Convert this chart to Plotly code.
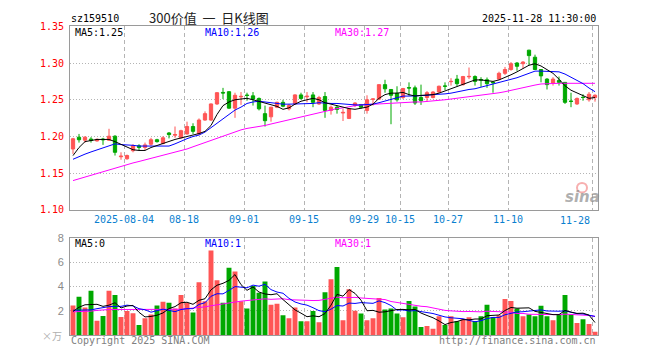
import plotly.graph_objects as go

# ---------------- data ----------------
dates = [
    "2025-07-22", "2025-07-23", "2025-07-24", "2025-07-25", "2025-07-28", "2025-07-29", "2025-07-30", "2025-07-31",
    "2025-08-01", "2025-08-04", "2025-08-05", "2025-08-06", "2025-08-07", "2025-08-08", "2025-08-11", "2025-08-12",
    "2025-08-13", "2025-08-14", "2025-08-15", "2025-08-18", "2025-08-19", "2025-08-20", "2025-08-21", "2025-08-22",
    "2025-08-25", "2025-08-26", "2025-08-27", "2025-08-28", "2025-08-29", "2025-09-01", "2025-09-02", "2025-09-03",
    "2025-09-04", "2025-09-05", "2025-09-08", "2025-09-09", "2025-09-10", "2025-09-11", "2025-09-12", "2025-09-15",
    "2025-09-16", "2025-09-17", "2025-09-18", "2025-09-19", "2025-09-22", "2025-09-23", "2025-09-24", "2025-09-25",
    "2025-09-26", "2025-09-29", "2025-09-30", "2025-10-09", "2025-10-10", "2025-10-13", "2025-10-14", "2025-10-15",
    "2025-10-16", "2025-10-17", "2025-10-20", "2025-10-21", "2025-10-22", "2025-10-23", "2025-10-24", "2025-10-27",
    "2025-10-28", "2025-10-29", "2025-10-30", "2025-10-31", "2025-11-03", "2025-11-04", "2025-11-05", "2025-11-06",
    "2025-11-07", "2025-11-10", "2025-11-11", "2025-11-12", "2025-11-13", "2025-11-14", "2025-11-17", "2025-11-18",
    "2025-11-19", "2025-11-20", "2025-11-21", "2025-11-24", "2025-11-25", "2025-11-26", "2025-11-27", "2025-11-28",
]

opens = [
    1.1830, 1.1990, 1.1950, 1.1965, 1.1940, 1.1965, 1.1950, 1.2004, 1.1724, 1.1697,
    1.1807, 1.1873, 1.1851, 1.1895, 1.1956, 1.1904, 1.2048, 1.2018, 1.1982, 1.2035,
    1.2136, 1.2035, 1.2224, 1.2224, 1.2443, 1.2600, 1.2610, 1.2386, 1.2540, 1.2565,
    1.2553, 1.2518, 1.2311, 1.2268, 1.2399, 1.2465, 1.2377, 1.2443, 1.2566, 1.2540,
    1.2566, 1.2443, 1.2544, 1.2355, 1.2399, 1.2320, 1.2246, 1.2421, 1.2434, 1.2355,
    1.2505, 1.2509, 1.2706, 1.2640, 1.2588, 1.2531, 1.2665, 1.2662, 1.2531, 1.2531,
    1.2531, 1.2605, 1.2688, 1.2746, 1.2781, 1.2706, 1.2812, 1.2816, 1.2776, 1.2772,
    1.2741, 1.2781, 1.2860, 1.2912, 1.3000, 1.2991, 1.3175, 1.3079, 1.2912, 1.2781,
    1.2728, 1.2763, 1.2737, 1.2482, 1.2443, 1.2533, 1.2500, 1.2531,
]
highs = [
    1.1982, 1.2035, 1.2004, 1.1991, 1.1974, 1.1982, 1.2105, 1.2018, 1.1785, 1.1754,
    1.1895, 1.1895, 1.1917, 1.1982, 1.1969, 1.2004, 1.2061, 1.2136, 1.2092, 1.2202,
    1.2180, 1.2246, 1.2342, 1.2450, 1.2605, 1.2662, 1.2618, 1.2596, 1.2605, 1.2596,
    1.2605, 1.2531, 1.2421, 1.2405, 1.2474, 1.2500, 1.2443, 1.2575, 1.2596, 1.2605,
    1.2605, 1.2553, 1.2605, 1.2421, 1.2421, 1.2377, 1.2386, 1.2465, 1.2443, 1.2561,
    1.2518, 1.2710, 1.2772, 1.2645, 1.2684, 1.2662, 1.2737, 1.2693, 1.2706, 1.2618,
    1.2618, 1.2693, 1.2737, 1.2794, 1.2838, 1.2825, 1.2939, 1.2833, 1.2807, 1.2803,
    1.2750, 1.2882, 1.2947, 1.3013, 1.3013, 1.3026, 1.3180, 1.3114, 1.2915, 1.2794,
    1.2807, 1.2816, 1.2740, 1.2596, 1.2531, 1.2575, 1.2605, 1.2575,
]
lows = [
    1.1763, 1.1917, 1.1917, 1.1917, 1.1930, 1.1886, 1.1939, 1.1741, 1.1684, 1.1684,
    1.1785, 1.1816, 1.1816, 1.1873, 1.1917, 1.1895, 1.1974, 1.1982, 1.1974, 1.2026,
    1.2035, 1.2018, 1.2215, 1.2211, 1.2430, 1.2509, 1.2377, 1.2254, 1.2430, 1.2487,
    1.2421, 1.2355, 1.2136, 1.2202, 1.2386, 1.2399, 1.2355, 1.2434, 1.2500, 1.2465,
    1.2399, 1.2430, 1.2254, 1.2298, 1.2311, 1.2211, 1.2237, 1.2399, 1.2377, 1.2311,
    1.2421, 1.2500, 1.2596, 1.2167, 1.2474, 1.2509, 1.2553, 1.2430, 1.2430, 1.2474,
    1.2518, 1.2596, 1.2632, 1.2693, 1.2684, 1.2693, 1.2781, 1.2693, 1.2675, 1.2662,
    1.2596, 1.2772, 1.2838, 1.2895, 1.2895, 1.2925, 1.2969, 1.2908, 1.2737, 1.2640,
    1.2693, 1.2693, 1.2443, 1.2399, 1.2430, 1.2487, 1.2474, 1.2474,
]
closes = [
    1.1969, 1.1956, 1.1991, 1.1947, 1.1961, 1.1956, 1.2004, 1.1785, 1.1732, 1.1741,
    1.1873, 1.1851, 1.1886, 1.1956, 1.1930, 1.1982, 1.2026, 1.2026, 1.2079, 1.2136,
    1.2070, 1.2224, 1.2311, 1.2443, 1.2596, 1.2592, 1.2386, 1.2561, 1.2546, 1.2558,
    1.2509, 1.2377, 1.2215, 1.2399, 1.2465, 1.2412, 1.2421, 1.2566, 1.2518, 1.2548,
    1.2465, 1.2531, 1.2355, 1.2399, 1.2368, 1.2328, 1.2377, 1.2456, 1.2399, 1.2500,
    1.2511, 1.2706, 1.2649, 1.2561, 1.2500, 1.2653, 1.2660, 1.2456, 1.2487, 1.2596,
    1.2605, 1.2684, 1.2684, 1.2750, 1.2719, 1.2816, 1.2818, 1.2750, 1.2768, 1.2719,
    1.2732, 1.2860, 1.2912, 1.2991, 1.2956, 1.3013, 1.3101, 1.2912, 1.2825, 1.2706,
    1.2781, 1.2737, 1.2465, 1.2478, 1.2518, 1.2531, 1.2575, 1.2561,
]

ma5 = [
    1.174, 1.185, 1.193, 1.195, 1.196, 1.196, 1.196, 1.193, 1.189, 1.185,
    1.182, 1.181, 1.181, 1.185, 1.188, 1.191, 1.194, 1.196, 1.198, 1.200,
    1.201, 1.204, 1.207, 1.215, 1.230, 1.242, 1.247, 1.250, 1.251, 1.252,
    1.250, 1.248, 1.246, 1.244, 1.241, 1.237, 1.239, 1.244, 1.248, 1.250,
    1.252, 1.250, 1.246, 1.244, 1.242, 1.239, 1.238, 1.237, 1.238, 1.240,
    1.244, 1.252, 1.257, 1.259, 1.259, 1.260, 1.257, 1.255, 1.256, 1.256,
    1.257, 1.259, 1.262, 1.266, 1.269, 1.272, 1.275, 1.277, 1.277, 1.276,
    1.275, 1.277, 1.280, 1.284, 1.288, 1.292, 1.297, 1.299, 1.296, 1.291,
    1.286, 1.278, 1.269, 1.263, 1.259, 1.255, 1.252, 1.253,
]
ma10 = [
    1.169, 1.173, 1.176, 1.179, 1.182, 1.184, 1.188, 1.190, 1.189, 1.189,
    1.188, 1.187, 1.187, 1.186, 1.186, 1.186, 1.187, 1.190, 1.194, 1.197,
    1.200, 1.202, 1.206, 1.212, 1.219, 1.225, 1.231, 1.236, 1.240, 1.245,
    1.247, 1.248, 1.247, 1.246, 1.245, 1.244, 1.244, 1.244, 1.245, 1.245,
    1.245, 1.246, 1.245, 1.245, 1.245, 1.244, 1.244, 1.243, 1.243, 1.243,
    1.244, 1.246, 1.248, 1.250, 1.253, 1.255, 1.255, 1.255, 1.256, 1.256,
    1.257, 1.257, 1.258, 1.259, 1.261, 1.262, 1.264, 1.265, 1.267, 1.269,
    1.271, 1.274, 1.276, 1.278, 1.280, 1.283, 1.286, 1.289, 1.289, 1.289,
    1.289, 1.288, 1.285, 1.281, 1.277, 1.272, 1.266, 1.261,
]
ma30 = [
    1.1400, 1.1425, 1.1450, 1.1475, 1.1500, 1.1520, 1.1550, 1.1570, 1.1590, 1.1620,
    1.1640, 1.1660, 1.1680, 1.1700, 1.1720, 1.1740, 1.1760, 1.1780, 1.1800, 1.1830,
    1.1860, 1.1890, 1.1920, 1.1950, 1.1980, 1.2010, 1.2040, 1.2070, 1.2090, 1.2110,
    1.2120, 1.2130, 1.2150, 1.2170, 1.2190, 1.2200, 1.2220, 1.2240, 1.2260, 1.2280,
    1.2300, 1.2320, 1.2340, 1.2360, 1.2380, 1.2390, 1.2410, 1.2420, 1.2430, 1.2435,
    1.2440, 1.2445, 1.2450, 1.2455, 1.2460, 1.2460, 1.2465, 1.2470, 1.2470, 1.2475,
    1.2480, 1.2490, 1.2500, 1.2510, 1.2520, 1.2530, 1.2540, 1.2550, 1.2560, 1.2570,
    1.2580, 1.2595, 1.2610, 1.2630, 1.2650, 1.2665, 1.2680, 1.2700, 1.2715, 1.2720,
    1.2722, 1.2724, 1.2724, 1.2724, 1.2724, 1.2724, 1.2724, 1.2724,
]

volumes = [
    2.45, 3.17, 2.27, 3.65, 1.18, 1.58, 3.65, 3.30, 1.50, 1.98,
    1.80, 0.84, 1.40, 1.70, 2.45, 2.75, 2.67, 2.19, 3.30, 2.65,
    1.87, 4.36, 2.80, 6.98, 4.52, 2.67, 5.56, 5.24, 2.80, 2.19,
    4.05, 3.49, 4.42, 2.51, 2.59, 1.63, 1.39, 2.27, 1.15, 1.15,
    1.98, 1.07, 3.54, 4.60, 5.61, 1.23, 3.78, 2.00, 1.79, 1.23,
    1.39, 3.06, 2.11, 2.19, 1.79, 1.47, 2.82, 2.35, 0.68, 0.76,
    0.52, 1.55, 0.84, 1.55, 1.15, 1.31, 1.47, 1.15, 1.55, 2.51,
    1.47, 1.63, 2.98, 2.82, 2.19, 1.55, 1.71, 1.55, 2.43, 1.55,
    1.23, 1.71, 3.30, 1.71, 1.00, 1.31, 0.92, 0.28,
]
vma5 = [
    1.95, 2.30, 2.50, 2.55, 2.54, 2.37, 2.47, 2.67, 2.24, 2.40,
    2.45, 1.88, 1.50, 1.54, 1.64, 1.83, 2.19, 2.35, 2.67, 2.71,
    2.54, 2.87, 3.00, 3.73, 4.11, 4.27, 4.51, 4.99, 4.16, 3.69,
    3.97, 3.55, 3.39, 3.33, 3.41, 2.93, 2.51, 2.08, 1.81, 1.52,
    1.59, 1.52, 1.78, 2.47, 3.36, 3.21, 3.75, 3.44, 2.88, 2.01,
    2.04, 1.89, 1.92, 2.00, 2.11, 2.12, 2.08, 2.12, 1.82, 1.62,
    1.43, 1.17, 0.87, 1.04, 1.12, 1.28, 1.26, 1.33, 1.33, 1.60,
    1.63, 1.66, 2.03, 2.28, 2.22, 2.23, 2.25, 1.96, 1.89, 1.76,
    1.69, 1.69, 2.04, 1.90, 1.79, 1.81, 1.65, 1.04,
]
vma10 = [
    2.05, 2.05, 2.02, 2.08, 2.18, 2.28, 2.35, 2.37, 2.37, 2.47,
    2.41, 2.18, 2.09, 1.89, 2.02, 2.14, 2.04, 1.93, 2.11, 2.18,
    2.18, 2.53, 2.67, 3.20, 3.41, 3.40, 3.69, 4.00, 3.95, 3.90,
    4.12, 4.03, 4.19, 3.75, 3.55, 3.45, 3.03, 2.73, 2.57, 2.47,
    2.26, 2.02, 1.93, 2.14, 2.44, 2.40, 2.64, 2.61, 2.68, 2.68,
    2.62, 2.82, 2.68, 2.44, 2.06, 2.08, 1.99, 2.02, 1.91, 1.86,
    1.78, 1.62, 1.50, 1.43, 1.37, 1.35, 1.22, 1.10, 1.19, 1.36,
    1.46, 1.46, 1.68, 1.80, 1.91, 1.93, 1.96, 2.00, 2.08, 1.99,
    1.96, 1.97, 2.00, 1.89, 1.77, 1.75, 1.67, 1.54,
]
vma30 = [
    1.92, 1.92, 1.92, 1.98, 2.04, 2.09, 2.11, 2.11, 2.11, 2.11,
    2.11, 2.11, 2.11, 2.11, 2.11, 2.11, 2.11, 2.11, 2.13, 2.18,
    2.22, 2.26, 2.33, 2.42, 2.50, 2.56, 2.63, 2.76, 2.80, 2.85,
    2.90, 2.91, 2.99, 2.95, 2.99, 3.00, 2.92, 2.89, 2.87, 2.85,
    2.85, 2.86, 2.93, 3.03, 3.13, 3.08, 3.12, 3.11, 3.06, 3.02,
    3.00, 2.96, 2.93, 2.77, 2.68, 2.64, 2.55, 2.46, 2.38, 2.34,
    2.22, 2.15, 2.04, 2.00, 1.96, 1.94, 1.95, 1.91, 1.92, 1.97,
    1.95, 1.97, 1.95, 1.89, 1.78, 1.79, 1.72, 1.71, 1.73, 1.74,
    1.73, 1.69, 1.73, 1.71, 1.68, 1.68, 1.62, 1.55,
]

tick_dates = ["2025-08-04", "2025-08-18", "2025-09-01", "2025-09-15", "2025-09-29",
              "2025-10-15", "2025-10-27", "2025-11-10", "2025-11-28"]
tick_labels = ["2025-08-04", "08-18", "09-01", "09-15", "09-29", "10-15", "10-27", "11-10", "11-28"]
price_ticks = [1.10, 1.15, 1.20, 1.25, 1.30, 1.35]
vol_ticks = [2, 4, 6, 8]

# ---------------- styling ----------------
W, H = 660, 360
RED = "#ff5555"
GREEN = "#00a800"
BLUE = "#0000ff"
MAG = "#ff00ff"
GRID = "#b4b4b4"
BORDER = "#9a9a9a"
DATE_BLUE = "#0a7fd0"
MONO = "DejaVu Sans Mono, Liberation Mono, monospace"


def px(x):
    return x / W


def py(y):
    return 1 - y / H


xs = list(range(len(dates)))
tickpos = [dates.index(d) - 0.5 for d in tick_dates]
vol_colors = [RED if c >= o else GREEN for o, c in zip(opens, closes)]

fig = go.Figure()

fig.add_trace(go.Candlestick(
    x=xs, open=opens, high=highs, low=lows, close=closes,
    increasing=dict(line=dict(color=RED, width=1), fillcolor=RED),
    decreasing=dict(line=dict(color=GREEN, width=1), fillcolor=GREEN),
    whiskerwidth=0, hoverinfo="skip", xaxis="x", yaxis="y",
))
for vals, col in ((ma30, MAG), (ma10, BLUE), (ma5, "#000000")):
    fig.add_trace(go.Scatter(x=xs, y=vals, mode="lines", line=dict(color=col, width=1),
                             hoverinfo="skip", xaxis="x", yaxis="y"))

fig.add_trace(go.Bar(x=xs, y=volumes, marker=dict(color=vol_colors, line=dict(width=0)),
                     width=0.82, hoverinfo="skip", xaxis="x2", yaxis="y2"))
for vals, col in ((vma30, MAG), (vma10, BLUE), (vma5, "#000000")):
    fig.add_trace(go.Scatter(x=xs, y=vals, mode="lines", line=dict(color=col, width=1),
                             hoverinfo="skip", xaxis="x2", yaxis="y2"))

xdom = [px(70), px(598)]
common_x = dict(domain=xdom, range=[-0.5, len(dates) - 0.5], tickmode="array", tickvals=tickpos,
                showgrid=True, gridcolor=GRID, gridwidth=1, griddash="4px,3px",
                showline=True, mirror=True, linecolor=BORDER, linewidth=1,
                ticks="", zeroline=False, fixedrange=True)

# last date label is drawn separately (it sits left of its grid line)
main_ticktext = tick_labels[:-1] + [""]

fig.update_layout(
    width=W, height=H, margin=dict(l=0, r=0, t=0, b=0), autosize=False,
    paper_bgcolor="white", plot_bgcolor="white", showlegend=False, hovermode=False,
    boxgap=0.22,
    xaxis=dict(**common_x, ticktext=main_ticktext, anchor="y",
               tickfont=dict(family=MONO, size=10, color=DATE_BLUE),
               rangeslider=dict(visible=False)),
    xaxis2=dict(**common_x, showticklabels=False, anchor="y2", matches="x"),
    yaxis=dict(domain=[py(211), py(21)], range=[1.10, 1.35], tickmode="array",
               tickvals=price_ticks, ticktext=[f"{v:.2f}" for v in price_ticks],
               tickfont=dict(family=MONO, size=10, color="#ff0000"),
               showgrid=True, gridcolor=GRID, gridwidth=1, griddash="1px,2px",
               showline=True, mirror=True, linecolor=BORDER, linewidth=1,
               ticks="", ticklabelstandoff=3, zeroline=False, fixedrange=True, anchor="x"),
    yaxis2=dict(domain=[py(340.5), py(240)], range=[0, 8], tickmode="array",
                tickvals=vol_ticks, ticktext=[str(v) for v in vol_ticks],
                tickfont=dict(family="Liberation Sans, Arial, sans-serif", size=11, color="#8a8a8a"),
                showgrid=True, gridcolor=GRID, gridwidth=1, griddash="1px,2px",
                showline=True, mirror=True, linecolor=BORDER, linewidth=1,
                ticks="", ticklabelstandoff=3, zeroline=False, fixedrange=True, anchor="x2"),
)


def note(text, x, y, color="#000000", anchor="left", size=10, family=MONO, **kw):
    fig.add_annotation(text=text, x=px(x), y=py(y), xref="paper", yref="paper",
                       xanchor=anchor, yanchor="middle", showarrow=False,
                       font=dict(family=family, size=size, color=color, **kw))


NB = "\u00a0"
note("sz159510", 69, 13, "#000000")
note("300价值" + NB * 2 + "一" + NB * 2 + "日K线图", 209, 12, "#222222", anchor="center", size=13,
     family="Noto Sans CJK SC, sans-serif")
note("2025-11-28 11:30:00", 598, 13, "#000000", anchor="right")

note("MA5:1.25", 73, 27, "#000000")
note("MA10:1.26", 203, 27, BLUE)
note("MA30:1.27", 333, 27, MAG)

note("MA5:0", 73, 246, "#000000")
note("MA10:1", 203, 246, BLUE)
note("MA30:1", 333, 246, MAG)

# last date label
fig.add_annotation(text=tick_labels[-1], x=tickpos[-1], y=py(222), xref="x", yref="paper",
                   xanchor="right", yanchor="middle", showarrow=False,
                   font=dict(family=MONO, size=10, color=DATE_BLUE))

note("Copyright 2025 SINA.COM", 69, 346, "#808080")
note("http://finance.sina.com.cn", 598, 346, "#808080", anchor="right")
note("×万", 64, 341, "#b0b0b0", anchor="right", size=10, family="Noto Sans CJK SC, sans-serif")

# sina watermark
fig.add_shape(type="circle", xref="paper", yref="paper",
              x0=px(577), x1=px(587), y0=py(193), y1=py(183),
              line=dict(color="rgba(240,110,110,0.55)", width=2), fillcolor="rgba(0,0,0,0)")
note("sina", 582, 198, "rgba(140,140,140,0.7)", anchor="center", size=15,
     family="DejaVu Sans, sans-serif", style="italic", weight="bold")

fig.write_html(
    "out.html",
    config={"displayModeBar": False, "responsive": False},
    post_script="document.body.style.margin='0';document.body.style.overflow='hidden';",
)
